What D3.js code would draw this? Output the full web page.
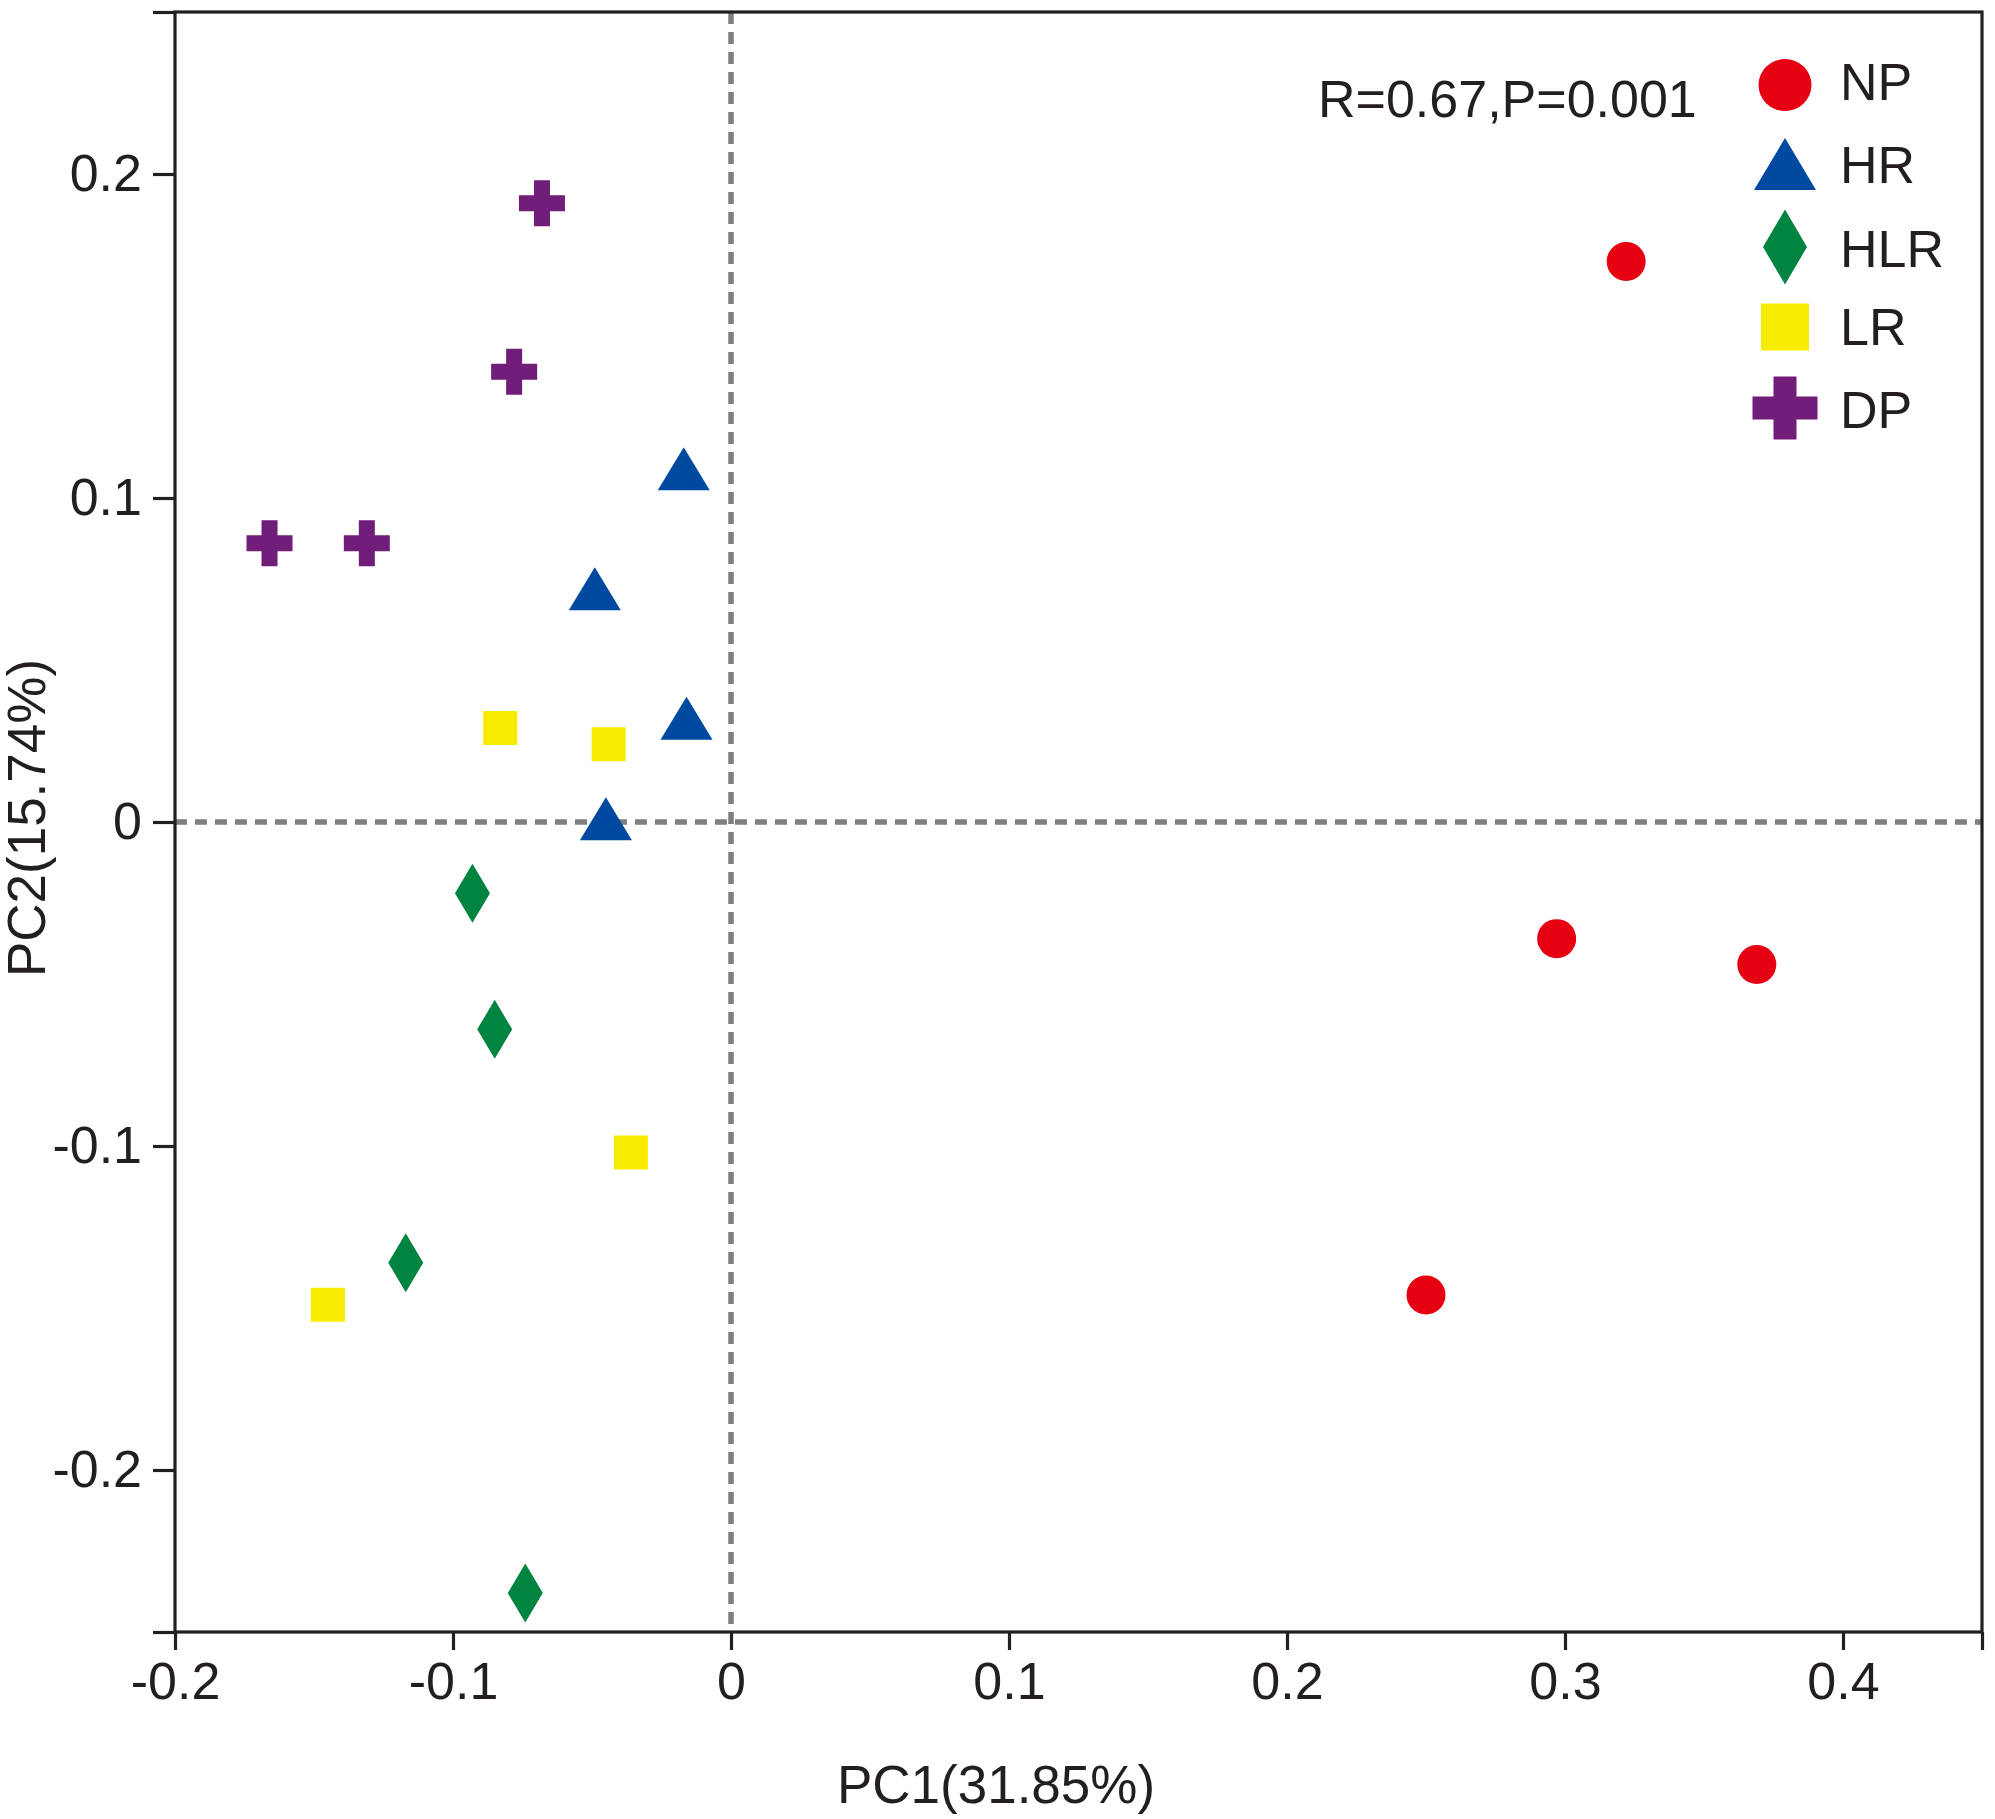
<!DOCTYPE html>
<html>
<head>
<meta charset="utf-8">
<script src="https://cdn.jsdelivr.net/npm/d3@7"></script>
<style>
body{margin:0;background:#fff}
svg{display:block}
text{font-family:"Liberation Sans",Arial,Helvetica,sans-serif;fill:#231f20}
</style>
</head>
<body>
<svg width="1995" height="1819"></svg>
<script>
// groups and their points (PC1, PC2)
var groups = ['NP', 'HR', 'HLR', 'LR', 'DP'];
var colors = ['#e50012', '#0049a0', '#00843f', '#f7ec00', '#701e79'];
var shapes = ['circle', 'triangle', 'diamond', 'square', 'cross'];

var npX = [0.322, 0.297, 0.369, 0.250];
var npY = [0.173, -0.036, -0.044, -0.146];
var hrX = [-0.017, -0.049, -0.016, -0.045];
var hrY = [0.109, 0.072, 0.032, 0.001];
var hlrX = [-0.093, -0.085, -0.117, -0.074];
var hlrY = [-0.022, -0.064, -0.136, -0.238];
var lrX = [-0.083, -0.044, -0.036, -0.145];
var lrY = [0.029, 0.024, -0.102, -0.149];
var dpX = [-0.068, -0.078, -0.166, -0.131];
var dpY = [0.191, 0.139, 0.086, 0.086];

var xTicks = [-0.2, -0.1, 0, 0.1, 0.2, 0.3, 0.4];
var yTicks = [-0.2, -0.1, 0, 0.1, 0.2];

var xs = [npX, hrX, hlrX, lrX, dpX];
var ys = [npY, hrY, hlrY, lrY, dpY];

var svg = d3.select('svg');
var plotL = 175, plotR = 1982, plotT = 12, plotB = 1632;

var x = d3.scaleLinear().domain([-0.2, 0.45]).range([plotL, plotR]);
var y = d3.scaleLinear().domain([-0.25, 0.25]).range([plotB, plotT]);

function fmt(d){ return d === 0 ? '0' : d.toFixed(1); }

// shape paths, w/h in px
function shapePath(s, w, h, arm){
  var a = w/2, b = h/2;
  if (s == 'circle') return 'M' + (-a) + ',0A' + a + ',' + b + ' 0 1,0 ' + a + ',0A' + a + ',' + b + ' 0 1,0 ' + (-a) + ',0Z';
  if (s == 'triangle') return 'M0,' + (-b) + 'L' + a + ',' + b + 'L' + (-a) + ',' + b + 'Z';
  if (s == 'diamond') return 'M0,' + (-b) + 'L' + a + ',0L0,' + b + 'L' + (-a) + ',0Z';
  if (s == 'square') return 'M' + (-a) + ',' + (-b) + 'H' + a + 'V' + b + 'H' + (-a) + 'Z';
  var t = arm/2;
  return 'M' + (-t) + ',' + (-b) + 'H' + t + 'V' + (-t) + 'H' + a + 'V' + t + 'H' + t + 'V' + b +
    'H' + (-t) + 'V' + t + 'H' + (-a) + 'V' + (-t) + 'H' + (-t) + 'Z';
}
var markSize = {circle:[39,39,0], triangle:[52,43,0], diamond:[35,59,0], square:[34,34,0], cross:[46,46,16]};
var legSize = {circle:[53,52,0], triangle:[62,52,0], diamond:[44,75,0], square:[48,47,0], cross:[65,63,23]};

// zero lines
svg.append('line').attr('x1', x(0)).attr('x2', x(0)).attr('y1', plotT).attr('y2', plotB)
  .attr('stroke', '#7f7f7f').attr('stroke-width', 5.5).attr('stroke-dasharray', '12,8');
svg.append('line').attr('x1', plotL).attr('x2', plotR).attr('y1', y(0)).attr('y2', y(0))
  .attr('stroke', '#7f7f7f').attr('stroke-width', 5.5).attr('stroke-dasharray', '12,8');

// points
groups.forEach(function(g, i){
  var s = shapes[i], sz = markSize[s];
  var pts = xs[i].map(function(v, k){ return [v, ys[i][k]]; });
  svg.append('g').selectAll('path').data(pts).join('path')
    .attr('d', shapePath(s, sz[0], sz[1], sz[2]))
    .attr('transform', function(d){ return 'translate(' + x(d[0]) + ',' + y(d[1]) + ')'; })
    .attr('fill', colors[i]);
});

// frame
svg.append('rect').attr('x', plotL).attr('y', plotT).attr('width', plotR - plotL).attr('height', plotB - plotT)
  .attr('fill', 'none').attr('stroke', '#231f20').attr('stroke-width', 3.2);

// axes
var xAxis = svg.append('g').attr('transform', 'translate(0,' + plotB + ')')
  .call(d3.axisBottom(x).tickValues(xTicks.concat([0.45])).tickSize(18).tickPadding(12)
    .tickFormat(function(d){ return d == 0.45 ? '' : fmt(d); }));
var yAxis = svg.append('g').attr('transform', 'translate(' + plotL + ',0)')
  .call(d3.axisLeft(y).tickValues(yTicks.concat([-0.25, 0.25])).tickSize(22).tickPadding(11)
    .tickFormat(function(d){ return Math.abs(d) == 0.25 ? '' : fmt(d); }));
[xAxis, yAxis].forEach(function(a){
  a.select('.domain').remove();
  a.selectAll('line').attr('stroke', '#231f20').attr('stroke-width', 3.2);
  a.selectAll('text').attr('font-size', 52).attr('fill', '#231f20')
    .style('font-family', '"Liberation Sans",Arial,sans-serif');
});

// axis titles
svg.append('text').attr('x', 996).attr('y', 1803).attr('text-anchor', 'middle')
  .attr('font-size', 53).text('PC1(31.85%)');
svg.append('text').attr('transform', 'translate(45,818) rotate(-90)').attr('text-anchor', 'middle')
  .attr('font-size', 53).text('PC2(15.74%)');

// statistic
svg.append('text').attr('x', 1318).attr('y', 117).attr('font-size', 52).text('R=0.67,P=0.001');

// legend
var legY = [85, 164, 247, 327, 408];
var legBase = [100, 183, 267, 345, 428];
groups.forEach(function(g, i){
  var s = shapes[i], sz = legSize[s];
  svg.append('path').attr('d', shapePath(s, sz[0], sz[1], sz[2]))
    .attr('transform', 'translate(1785,' + legY[i] + ')').attr('fill', colors[i]);
  svg.append('text').attr('x', 1840).attr('y', legBase[i]).attr('font-size', 52).text(g);
});
</script>
</body>
</html>
